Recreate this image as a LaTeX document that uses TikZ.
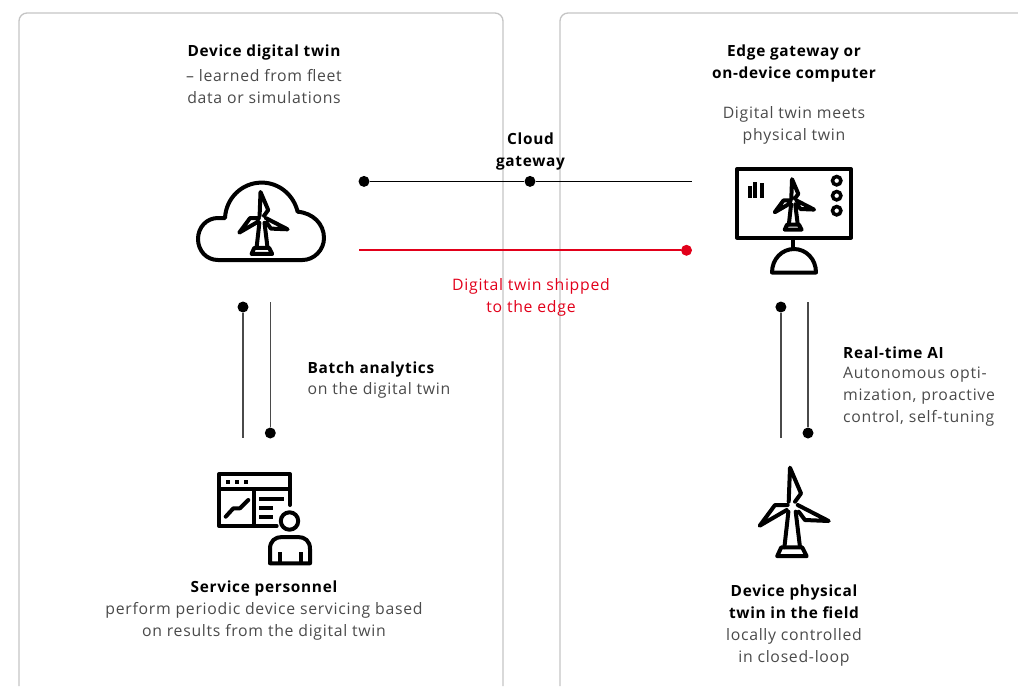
\documentclass[tikz,border=0pt]{standalone}
\usepackage{fontspec}
\setmainfont[LetterSpace=4.5]{Open Sans}
\definecolor{txt}{HTML}{4A4A4A}
\definecolor{abbred}{HTML}{E2001A}
\definecolor{panel}{HTML}{C4C4C4}
\tikzset{
  x=1pt,y=-1pt,
  panelbox/.style={draw=panel,line width=1.3pt,rounded corners=8pt},
  label/.style={align=center,text=txt,inner sep=0pt,font=\fontsize{15.8}{22}\selectfont},
  leftlabel/.style={label,align=left,anchor=north west},
  dot/.style={circle,fill=black,inner sep=0pt,minimum size=11pt},
  reddot/.style={circle,fill=abbred,inner sep=0pt,minimum size=11pt},
  link/.style={draw=black,line width=1.4pt},
  redlink/.style={draw=abbred,line width=1.7pt},
  icon/.style={draw=black,line width=4pt,line join=round,line cap=round},
  turbine/.pic={
    \draw[icon,pic actions] (-3,-6) -- (-1.7,-40) -- (9.3,-14.3) -- (3.3,-6);
    \draw[icon,pic actions] (6,-2.7) -- (37,13.3) -- (13.3,12.3) -- (7,4);
    \draw[icon,pic actions] (-4,-2.7) -- (-16.7,-2.7) -- (-32,18) -- (-5,2.3);
    \draw[icon,pic actions] (-3.3,4) -- (-7.3,39.5);
    \draw[icon,pic actions] (4,4) -- (8.3,39.5);
    \draw[icon,pic actions] (-10.5,39.7) -- (10.5,39.7) -- (15,48.5) -- (-14.5,48.5) -- cycle;
  }
}
\newcommand{\bt}[1]{{\fontsize{15.4}{22}\selectfont\bfseries\color{black}#1}}
\begin{document}
\begin{tikzpicture}
\useasboundingbox (0,0) rectangle (1018,686);
% panels
\draw[panelbox] (19,686) -- (19,13) -- (503,13) -- (503,686);
\draw[panelbox] (560,686) -- (560,13) -- (1018,13);

% cloud with turbine
\draw[icon] (218,260) .. controls (206.4,260) and (198,250.6) .. (198,239)
  .. controls (198,227.4) and (206.4,218) .. (218,218) -- (225,218)
  .. controls (226,198) and (242,182.6) .. (261.7,182.6)
  .. controls (280,182.6) and (294,196) .. (297.6,211.7)
  .. controls (313,213) and (324,224) .. (324,238)
  .. controls (324,250) and (314,260) .. (302.5,260) -- cycle;
\pic[scale=.7] at (261.7,220) {turbine};

% monitor
\draw[icon,line cap=butt] (737,169) rectangle (851,237.5);
\draw[icon] (793,238) -- (793,249);
\draw[icon] (772,272.5) .. controls (772,259) and (782,249) .. (794,249)
  .. controls (806,249) and (816,259) .. (816,272.5) -- cycle;
\fill (747.7,186) rectangle (751.5,197.5);
\fill (753.3,181.7) rectangle (757.2,197.5);
\fill (760,183) rectangle (764,197.5);
\foreach \cy in {180.7,195.7,210.7}
  \draw[black,line width=3.5pt] (836.7,\cy) circle[radius=4.2];
\pic[scale=.57] at (793,202) {turbine};

% field turbine
\pic at (791.7,507.7) {turbine};

% service personnel icon
\draw[icon] (276.7,526) -- (219,526) -- (219,474) -- (290,474) -- (290,505);
\draw[icon] (219,489) -- (290,489);
\draw[icon] (254.3,489) -- (254.3,526);
\foreach \dx in {226,235,244}
  \fill (\dx,479.5) rectangle +(4,4);
\draw[icon] (225.7,516.7) -- (233.3,508.3) -- (240,508.3) -- (248.3,500);
\draw[icon,line cap=butt] (259,499.3) -- (284,499.3);
\draw[icon,line cap=butt] (259,507.7) -- (273.3,507.7);
\draw[icon,line cap=butt] (259,516.7) -- (273.3,516.7);
\draw[icon] (289.5,521) circle[radius=8.7];
\draw[icon] (270,563.3) -- (270,549) .. controls (270,541) and (275,537) .. (282,537)
  -- (298,537) .. controls (305,537) and (310,541) .. (310,549) -- (310,563.3) -- cycle;
\draw[icon,line cap=butt] (279.5,552) -- (279.5,563);
\draw[icon,line cap=butt] (301,552) -- (301,563);

% connectors
\node[dot] (d1) at (364,181.4) {};
\node[dot] (d2) at (530,181.4) {};
\coordinate (e1) at (692,181.4);
\draw[link] (d1) -- (d2);
\draw[link] (d2) -- (e1);
\coordinate (e2) at (359,250.3);
\node[reddot] (d3) at (686.5,250.3) {};
\draw[redlink] (e2) -- (d3);
\node[dot] (d4) at (243,307) {};
\coordinate (e4) at (243,438);
\draw[link,draw=txt] (d4) -- (e4);
\coordinate (e5) at (270.3,302);
\node[dot] (d5) at (270.3,433) {};
\draw[link,draw=txt] (e5) -- (d5);
\node[dot] (d6) at (780.9,307) {};
\coordinate (e6) at (780.9,438);
\draw[link,draw=txt] (d6) -- (e6);
\coordinate (e7) at (808,302);
\node[dot] (d7) at (808,433) {};
\draw[link,draw=txt] (e7) -- (d7);

% labels
\node[label,anchor=north] (t1a) at (264,44.5) {\bt{Device digital twin}};
\node[label,anchor=north] (t1) at (264,69.5) {– learned from fleet\\data or simulations};
\node[label,anchor=north] (t2) at (794,44.5) {\bt{Edge gateway or}\\\bt{on-device computer}};
\node[label,anchor=north] (t3) at (794,106.5) {Digital twin meets\\physical twin};
\node[label,anchor=north] (t4) at (530.5,132.5) {\bt{Cloud}\\\bt{gateway}};
\node[label,anchor=north,text=abbred] (t5) at (531,278) {Digital twin shipped\\to the edge};
\node[leftlabel] (t6) at (307.5,361.5) {\bt{Batch analytics}};
\node[leftlabel] (t6b) at (307.5,382) {on the digital twin};
\node[leftlabel] (t7) at (843,346.5) {\bt{Real-time AI}};
\node[leftlabel] (t7b) at (843,366.5) {Autonomous opti-\\mization, proactive\\control, self-tuning};
\node[label,anchor=north] (t8) at (264,580.5) {\bt{Service personnel}\\perform periodic device servicing based\\on results from the digital twin};
\node[label,anchor=north] (t9) at (794,585) {\bt{Device physical}\\\bt{twin in the field}\\locally controlled\\in closed-loop};
\end{tikzpicture}
\end{document}
